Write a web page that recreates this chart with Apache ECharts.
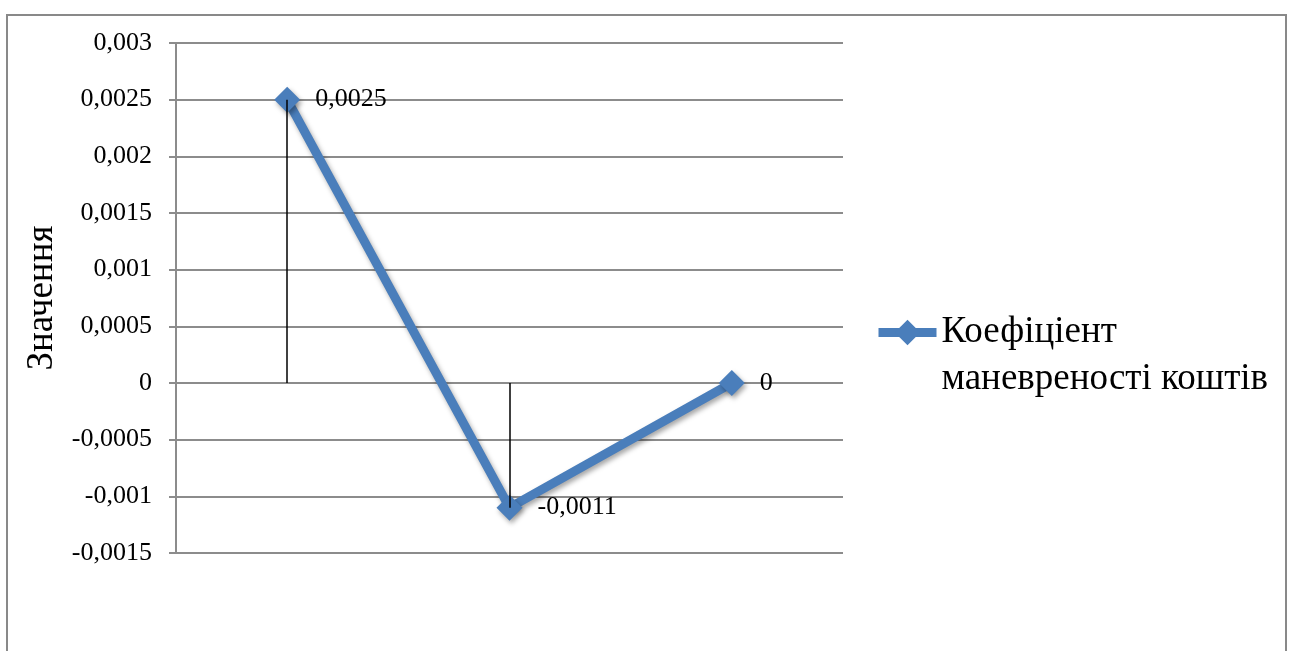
<!DOCTYPE html>
<html>
<head>
<meta charset="utf-8">
<script src="https://cdn.jsdelivr.net/npm/echarts@6/dist/echarts.min.js"></script>
<style>
html,body{margin:0;padding:0;background:#fff;}
#chart{width:1292px;height:651px;}
</style>
</head>
<body>
<div id="chart"></div>
<script>
const categories = ['1', '2', '3'];
const values = [0.0025, -0.0011, 0];
const valueLabels = ['0,0025', '-0,0011', '0'];
const seriesName = 'Коефіціент маневреності коштів';
const yAxisName = 'Значення';

const FONT = '"Liberation Serif", "Times New Roman", serif';
const BLUE = '#4a7ebb';

const chart = echarts.init(document.getElementById('chart'));

const dropLines = values.map((v, i) => [
  { coord: [i, 0] },
  { coord: [i, v] }
]);

chart.setOption({
  animation: false,
  backgroundColor: '#fff',
  graphic: [{
    type: 'rect',
    shape: { x: 7, y: 15, width: 1279, height: 700 },
    style: { fill: 'none', stroke: '#898989', lineWidth: 2 },
    silent: true,
    z: -1
  }],
  grid: { left: 176, right: 449, top: 43, bottom: 98, containLabel: false },
  legend: {
    left: 869,
    top: 257,
    itemWidth: 58,
    itemHeight: 32,
    data: [seriesName],
    formatter: n => '\n' + n.replace(' ', '\n'),
    lineStyle: { width: 9, color: BLUE },
    textStyle: {
      fontFamily: FONT, fontSize: 37, color: '#000',
      lineHeight: 47
    }
  },
  xAxis: {
    type: 'category',
    data: categories,
    boundaryGap: true,
    axisLine: { show: false },
    axisTick: { show: false },
    axisLabel: { show: false },
    splitLine: { show: false }
  },
  yAxis: {
    type: 'value',
    min: -0.0015,
    max: 0.003,
    interval: 0.0005,
    name: yAxisName,
    nameLocation: 'middle',
    nameGap: 109,
    nameTextStyle: { fontFamily: FONT, fontSize: 37, color: '#000' },
    axisLine: { show: true, lineStyle: { color: '#8c8c8c', width: 2 } },
    axisTick: { show: true, length: 7, lineStyle: { color: '#8c8c8c', width: 2 } },
    axisLabel: {
      fontFamily: FONT, fontSize: 26, color: '#000', margin: 24,
      formatter: v => String(Number(v.toFixed(4))).replace('.', ',')
    },
    splitLine: { show: true, lineStyle: { color: '#8c8c8c', width: 2 } }
  },
  series: [
    {
      name: seriesName,
      type: 'line',
      data: values,
      symbol: 'diamond',
      symbolSize: 26,
      z: 3,
      lineStyle: {
        color: BLUE, width: 9,
        shadowColor: 'rgba(0,0,0,0.35)', shadowBlur: 5, shadowOffsetX: 2, shadowOffsetY: 3
      },
      itemStyle: {
        color: BLUE, borderWidth: 0,
        shadowColor: 'rgba(0,0,0,0.35)', shadowBlur: 5, shadowOffsetX: 2, shadowOffsetY: 3
      },
      label: {
        show: true,
        position: 'right',
        distance: 15,
        fontFamily: FONT, fontSize: 26, color: '#000',
        formatter: p => valueLabels[p.dataIndex]
      }
    },
    {
      type: 'line',
      data: [],
      z: 10,
      silent: true,
      markLine: {
        silent: true,
        symbol: ['none', 'none'],
        label: { show: false },
        lineStyle: { color: '#000', width: 1.5, type: 'solid' },
        data: dropLines,
        z: 10
      }
    }
  ]
});
</script>
</body>
</html>
